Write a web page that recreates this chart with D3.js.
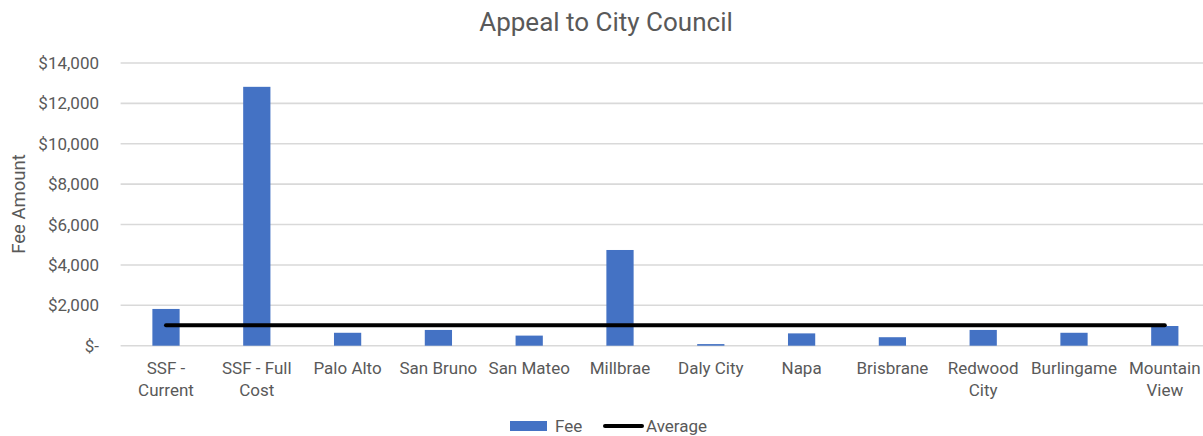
<!DOCTYPE html>
<html>
<head>
<meta charset="utf-8">
<script src="https://cdn.jsdelivr.net/npm/d3@7"></script>
<style>
  body { margin: 0; background: #fff; }
  text { font-family: Roboto, "Open Sans", sans-serif; fill: #595959; }
</style>
</head>
<body>
<div id="chart"></div>
<script>
// data
let cities = ["SSF - Current", "SSF - Full Cost", "Palo Alto", "San Bruno", "San Mateo", "Millbrae",
              "Daly City", "Napa", "Brisbrane", "Redwood City", "Burlingame", "Mountain View"];
let fees = [1820, 12820, 640, 780, 500, 4740, 80, 610, 420, 780, 640, 975];
let average = [1015, 1015, 1015, 1015, 1015, 1015, 1015, 1015, 1015, 1015, 1015, 1015];
let yTicks = [0, 2000, 4000, 6000, 8000, 10000, 12000, 14000];

let width = 1203, height = 436;
let plotLeft = 120.6, plotRight = 1210.2, plotTop = 63, plotBottom = 345.7;

let svg = d3.select("#chart").append("svg")
    .attr("width", width)
    .attr("height", height);

let x = d3.scaleBand()
    .domain(cities)
    .range([plotLeft, plotRight])
    .paddingInner(0.7)
    .paddingOuter(0.35);

let y = d3.scaleLinear()
    .domain([0, 14000])
    .range([plotBottom, plotTop]);

// gridlines
svg.append("g")
    .selectAll("line")
    .data(yTicks)
    .enter()
    .append("line")
    .attr("x1", plotLeft)
    .attr("x2", width)
    .attr("y1", function(d) { return y(d) })
    .attr("y2", function(d) { return y(d) })
    .attr("stroke", "#d9d9d9")
    .attr("stroke-width", 1.6);

// y axis labels
let fmt = d3.format(",");
svg.append("g")
    .selectAll("text")
    .data(yTicks)
    .enter()
    .append("text")
    .attr("x", 99)
    .attr("y", function(d) { return y(d) + 6 })
    .style("text-anchor", "end")
    .style("font-size", "17px")
    .text(function(d) { return d === 0 ? "$-" : "$" + fmt(d) });

// bars
svg.append("g")
    .selectAll("rect")
    .data(fees)
    .enter()
    .append("rect")
    .attr("x", function(d, i) { return x(cities[i]) })
    .attr("y", function(d) { return y(d) })
    .attr("width", x.bandwidth())
    .attr("height", function(d) { return y(0) - y(d) })
    .attr("fill", "#4472c4");

// average line
let line = d3.line()
    .x(function(d, i) { return x(cities[i]) + x.bandwidth() / 2 })
    .y(function(d) { return y(d) });

svg.append("path")
    .datum(average)
    .attr("d", line)
    .attr("fill", "none")
    .attr("stroke", "#000")
    .attr("stroke-width", 4)
    .attr("stroke-linecap", "round");

// x labels, split over two lines where the picture does
let labelLines = {
  "SSF - Current": ["SSF -", "Current"],
  "SSF - Full Cost": ["SSF - Full", "Cost"],
  "Redwood City": ["Redwood", "City"],
  "Mountain View": ["Mountain", "View"]
};
let xl = svg.append("g")
    .selectAll("text")
    .data(cities)
    .enter()
    .append("text")
    .attr("x", function(d) { return x(d) + x.bandwidth() / 2 })
    .attr("y", 374)
    .style("text-anchor", "middle")
    .style("font-size", "17px");
xl.selectAll("tspan")
    .data(function(d) { return labelLines[d] || [d] })
    .enter()
    .append("tspan")
    .attr("x", function() { return d3.select(this.parentNode).attr("x") })
    .attr("dy", function(d, i) { return i === 0 ? 0 : 22 })
    .text(function(d) { return d });

// y axis title
svg.append("text")
    .attr("transform", "translate(25, 204) rotate(-90)")
    .style("text-anchor", "middle")
    .style("font-size", "18.5px")
    .text("Fee Amount");

// chart title
svg.append("text")
    .attr("x", 606)
    .attr("y", 31)
    .style("text-anchor", "middle")
    .style("font-size", "26px")
    .text("Appeal to City Council");

// legend
svg.append("rect")
    .attr("x", 510).attr("y", 421)
    .attr("width", 37).attr("height", 10)
    .attr("fill", "#4472c4");
svg.append("text")
    .attr("x", 555).attr("y", 432)
    .style("font-size", "17px")
    .text("Fee");
svg.append("line")
    .attr("x1", 605).attr("x2", 642)
    .attr("y1", 426).attr("y2", 426)
    .attr("stroke", "#000")
    .attr("stroke-width", 4)
    .attr("stroke-linecap", "round");
svg.append("text")
    .attr("x", 646).attr("y", 432)
    .style("font-size", "17px")
    .text("Average");
</script>
</body>
</html>
